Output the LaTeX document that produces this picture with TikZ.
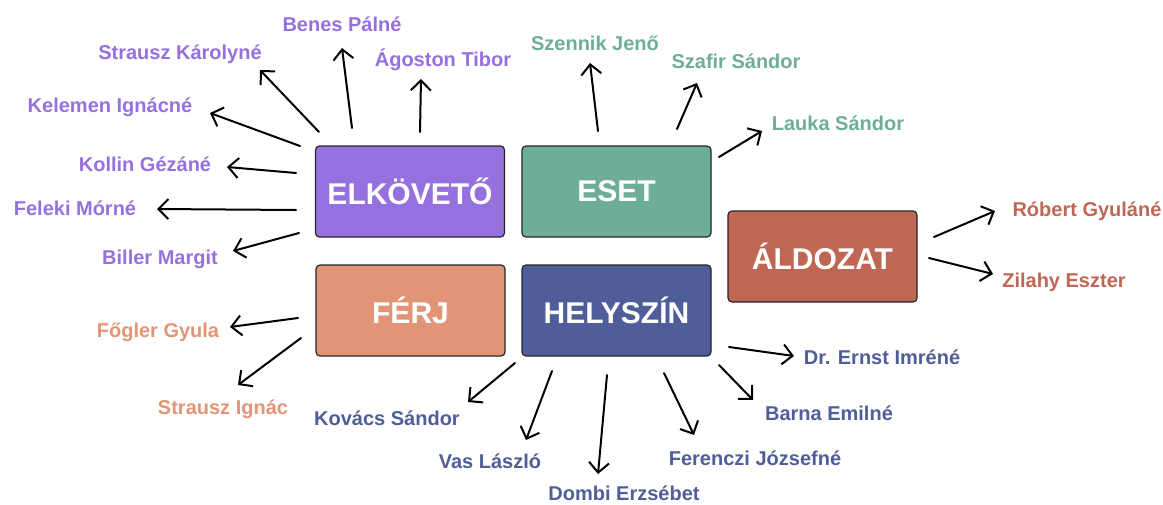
\documentclass[tikz,border=0pt]{standalone}
\usepackage{fontspec}
\setmainfont{Liberation Sans}
\usetikzlibrary{arrows.meta}

\definecolor{elkcol}{HTML}{9670DF}
\definecolor{esetcol}{HTML}{6EAE97}
\definecolor{aldcol}{HTML}{BF6655}
\definecolor{ferjcol}{HTML}{E29576}
\definecolor{helycol}{HTML}{4F5E99}

\tikzset{
  box/.style={draw=black!85, line width=1.2pt, rounded corners=4pt,
    minimum width=189pt, minimum height=91pt, inner sep=0pt,
    text=white, font=\bfseries\fontsize{30}{30}\selectfont},
  person/.style={inner sep=2pt, text height=14.4pt, text depth=0pt,
    font=\bfseries\fontsize{20}{24}\selectfont},
  arr/.style={-{Straight Barb[length=10pt,width=20pt]}, line width=2pt,
    line cap=round, line join=round}
}

\begin{document}
\begin{tikzpicture}[x=1pt,y=-1pt]
      \useasboundingbox (0,0) rectangle (1163,504);
      % boxes
      \node[box, fill=elkcol] (elk) at (410,191.5) {ELKÖVETŐ};
      \node[box, fill=esetcol] (eset) at (616.5,191.5) {ESET};
      \node[box, fill=aldcol] (ald) at (822.5,256.5) {ÁLDOZAT};
      \node[box, fill=ferjcol] (ferj) at (410.5,310.5) {FÉRJ};
      \node[box, fill=helycol] (hely) at (616.5,310.5) {HELYSZÍN};
      % names
      \begin{scope}[every node/.style={person, text=elkcol}]
        \node (strk) at (180,52) {Strausz Károlyné};
        \node (benes) at (342,24) {Benes Pálné};
        \node (agoston) at (443,59) {Ágoston Tibor};
        \node (kelemen) at (110,105) {Kelemen Ignácné};
        \node (kollin) at (145,164) {Kollin Gézáné};
        \node (feleki) at (75,208) {Feleki Mórné};
        \node (biller) at (160,257) {Biller Margit};
      \end{scope}
      \begin{scope}[every node/.style={person, text=esetcol}]
        \node (szennik) at (595,43) {Szennik Jenő};
        \node (szafir) at (736,61) {Szafir Sándor};
        \node (lauka) at (838,123) {Lauka Sándor};
      \end{scope}
      \begin{scope}[every node/.style={person, text=aldcol}]
        \node (robert) at (1087,209) {Róbert Gyuláné};
        \node (zilahy) at (1064,280) {Zilahy Eszter};
      \end{scope}
      \begin{scope}[every node/.style={person, text=ferjcol}]
        \node (fogler) at (158,330) {Főgler Gyula};
        \node (strig) at (223,407) {Strausz Ignác};
      \end{scope}
      \begin{scope}[every node/.style={person, text=helycol}]
        \node (ernst) at (882,357) {Dr. Ernst Imréné};
        \node (barna) at (829,413) {Barna Emilné};
        \node (ferenczi) at (755,458) {Ferenczi Józsefné};
        \node (dombi) at (624,493) {Dombi Erzsébet};
        \node (vas) at (490,461) {Vas László};
        \node (kovacs) at (387,418) {Kovács Sándor};
      \end{scope}
      % arrows
      \begin{scope}[arr]
        \draw ([shift={(-91,-59.5)}]elk.center) to ([shift={(80,18)}]strk.center);
        \draw ([shift={(-58,-63.5)}]elk.center) to ([shift={(0,24)}]benes.center);
        \draw ([shift={(10,-59.5)}]elk.center) to ([shift={(-22,20)}]agoston.center);
        \draw ([shift={(-110,-45.5)}]elk.center) to ([shift={(100,8)}]kelemen.center);
        \draw ([shift={(-114,-18.5)}]elk.center) to ([shift={(82,3)}]kollin.center);
        \draw ([shift={(-114,18.5)}]elk.center) to ([shift={(82,1)}]feleki.center);
        \draw ([shift={(-111,41.5)}]elk.center) to ([shift={(73,-6)}]biller.center);
        \draw ([shift={(-18.5,-60.5)}]eset.center) to ([shift={(-5,20)}]szennik.center);
        \draw ([shift={(60.5,-62.5)}]eset.center) to ([shift={(-39,22)}]szafir.center);
        \draw ([shift={(102.5,-34.5)}]eset.center) to ([shift={(-76,8)}]lauka.center);
        \draw ([shift={(111.5,-19.5)}]ald.center) to ([shift={(-92,2)}]robert.center);
        \draw ([shift={(106.5,1.5)}]ald.center) to ([shift={(-71,-6)}]zilahy.center);
        \draw ([shift={(-112.5,7.5)}]ferj.center) to ([shift={(72,-3)}]fogler.center);
        \draw ([shift={(-109.5,27.5)}]ferj.center) to ([shift={(15,-22)}]strig.center);
        \draw ([shift={(112.5,36.5)}]hely.center) to ([shift={(-88,-1)}]ernst.center);
        \draw ([shift={(102.5,54.5)}]hely.center) to ([shift={(-76,-13)}]barna.center);
        \draw ([shift={(47.5,62.5)}]hely.center) to ([shift={(-61,-23)}]ferenczi.center);
        \draw ([shift={(-9.5,64.5)}]hely.center) to ([shift={(-26,-19)}]dombi.center);
        \draw ([shift={(-64.5,60.5)}]hely.center) to ([shift={(36,-21)}]vas.center);
        \draw ([shift={(-101.5,52.5)}]hely.center) to ([shift={(81,-16)}]kovacs.center);
      \end{scope}
    \end{tikzpicture}
\end{document}
